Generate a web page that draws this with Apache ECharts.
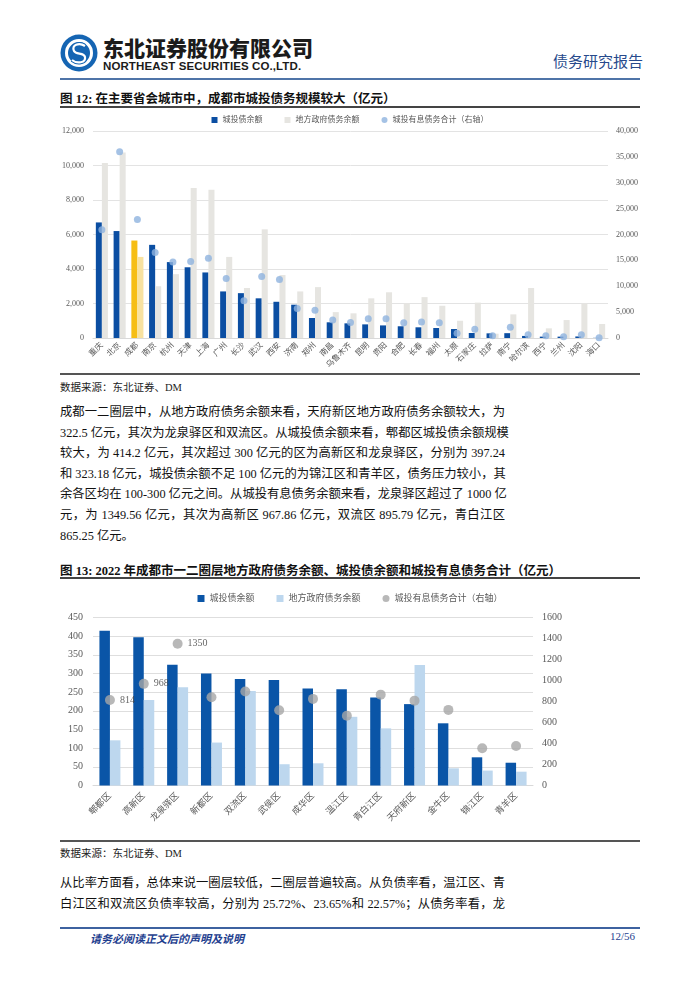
<!DOCTYPE html>
<html><head><meta charset="utf-8">
<script src="https://cdn.jsdelivr.net/npm/echarts@6/dist/echarts.min.js"></script>
<style>
body{margin:0;background:#fff;width:700px;height:990px;position:relative;overflow:hidden;font-family:"Liberation Serif","Noto Sans CJK SC",serif;color:#111;}
.abs{position:absolute;}
.title{font-weight:bold;font-size:12.5px;left:60px;white-space:nowrap;}
.rule{position:absolute;left:60px;width:580px;}
.src{font-size:10.5px;left:60px;color:#222;}
.para div{height:20.6px;line-height:20.6px;font-size:12.3px;width:445px;white-space:nowrap;}
.j{text-align:justify;text-align-last:justify;}
</style></head><body>
<svg class="abs" style="left:59px;top:33px" width="40" height="40" viewBox="0 0 40 40">
<circle cx="20" cy="20" r="18.5" fill="#1565b3"/>
<circle cx="20" cy="20" r="12.5" fill="none" stroke="#fff" stroke-width="3"/>
<path d="M26 13 C20 9 12 12 15 18 C17 22 25 19 26 24 C27 30 18 31 13 27" fill="none" stroke="#1565b3" stroke-width="4"/>
<path d="M26 13 C20 9 12 12 15 18 C17 22 25 19 26 24 C27 30 18 31 13 27" fill="none" stroke="#fff" stroke-width="2.2"/>
</svg>
<div class="abs" style="left:103px;top:32px;font-family:'Noto Sans CJK SC';font-weight:900;font-size:21px;letter-spacing:0px;color:#1b1b1b;">东北证券股份有限公司</div>
<div class="abs" style="left:103px;top:60px;font-family:'Liberation Sans';font-weight:bold;font-size:11.5px;color:#1b1b1b;letter-spacing:0.1px;">NORTHEAST SECURITIES CO.,LTD.</div>
<div class="abs" style="left:553px;top:50px;font-size:15px;color:#274a8c;font-family:'Noto Sans CJK SC';">债务研究报告</div>
<div class="rule" style="top:78px;height:2px;background:#4f74a8;"></div>

<div class="abs title" style="top:88px;">图 12: 在主要省会城市中，成都市城投债务规模较大（亿元）</div>
<div class="rule" style="top:106px;height:1.5px;background:#444;"></div>
<div id="c1" class="abs" style="left:0;top:108px;width:700px;height:265px;"></div>
<div class="rule" style="top:373px;height:1.5px;background:#555;"></div>
<div class="abs src" style="top:379px;">数据来源：东北证券、DM</div>

<div class="abs para" style="left:60px;top:402px;">
<div class="j">成都一二圈层中，从地方政府债务余额来看，天府新区地方政府债务余额较大，为</div>
<div class="j">322.5 亿元，其次为龙泉驿区和双流区。从城投债余额来看，郫都区城投债余额规模</div>
<div class="j">较大，为 414.2 亿元，其次超过 300 亿元的区为高新区和龙泉驿区，分别为 397.24</div>
<div class="j">和 323.18 亿元，城投债余额不足 100 亿元的为锦江区和青羊区，债务压力较小，其</div>
<div class="j">余各区均在 100-300 亿元之间。从城投有息债务余额来看，龙泉驿区超过了 1000 亿</div>
<div class="j">元，为 1349.56 亿元，其次为高新区 967.86 亿元，双流区 895.79 亿元，青白江区</div>
<div>865.25 亿元。</div>
</div>

<div class="abs title" style="top:560px;">图 13: 2022 年成都市一二圈层地方政府债务余额、城投债余额和城投有息债务合计（亿元）</div>
<div class="rule" style="top:577px;height:1.5px;background:#444;"></div>
<div id="c2" class="abs" style="left:0;top:582px;width:700px;height:258px;"></div>
<div class="rule" style="top:840px;height:1.5px;background:#555;"></div>
<div class="abs src" style="top:845px;">数据来源：东北证券、DM</div>

<div class="abs para" style="left:60px;top:873px;">
<div class="j">从比率方面看，总体来说一圈层较低，二圈层普遍较高。从负债率看，温江区、青</div>
<div class="j">白江区和双流区负债率较高，分别为 25.72%、23.65%和 22.57%；从债务率看，龙</div>
</div>

<div class="rule" style="top:927px;height:1.5px;background:#3d62a0;"></div>
<div class="abs" style="left:90px;top:930px;font-size:11px;font-weight:bold;font-style:italic;color:#1f3f8f;">请务必阅读正文后的声明及说明</div>
<div class="abs" style="left:610px;top:930px;font-size:11px;color:#1f3f8f;">12/56</div>

<script>
// ---------- Figure 12 data ----------
const cities = ['重庆','北京','成都','南京','杭州','天津','上海','广州','长沙','武汉','西安','济南','郑州','南昌','乌鲁木齐','昆明','贵阳','合肥','长春','福州','太原','石家庄','拉萨','南宁','哈尔滨','西宁','兰州','沈阳','海口'];
const cityBond = [6700,6200,5650,5400,4400,4100,3800,2700,2600,2300,2100,1930,1160,910,850,790,730,680,620,580,520,290,270,280,120,80,80,90,10];
const cityGovDebt = [10150,10750,4700,3000,3700,8700,8600,4700,2900,6300,3650,2700,2950,1500,1430,2300,2650,2000,2370,1870,1000,2050,250,1370,2900,560,1040,2000,810];
const cityInterestDebt = [20900,36000,22900,16500,14700,14800,15400,11500,7200,11900,11300,5700,5350,3500,3000,3700,3700,2950,3100,2950,900,1700,450,2070,650,450,260,650,50];
const leftTicks1 = {min:0,max:12000,interval:2000};
const rightTicks1 = {min:0,max:40000,interval:5000};

// ---------- Figure 13 data ----------
const districts = ['郫都区','高新区','龙泉驿区','新都区','双流区','武侯区','成华区','温江区','青白江区','天府新区','金牛区','锦江区','青羊区'];
const districtBond = [414.2,397.24,323.18,300,285,282.5,260,257.6,236,218,166.6,75.5,61];
const districtGovDebt = [121,229,263,115,253,57,59.5,184,153,322.5,46,40,37];
const districtInterestDebt = [814,967.86,1349.56,840,895.79,716,825,664,865.25,808,720,354,376];
const leftTicks2 = {min:0,max:450,interval:50};
const rightTicks2 = {min:0,max:1600,interval:200};

const names = ['城投债余额','地方政府债务余额','城投有息债务合计（右轴）'];
const fmt = v => v.toLocaleString('en-US');
const TXT = '#595959';
const SERIF = '"Liberation Serif","Noto Sans CJK SC",serif';

// ---------- Chart 1 ----------
const c1 = echarts.init(document.getElementById('c1'));
const hl = 2; // 成都 highlighted
c1.setOption({
  animation:false,
  legend:{top:3,left:'center',itemWidth:6,itemHeight:6,itemGap:22,
    textStyle:{fontSize:8,color:TXT,fontFamily:SERIF},
    data:[{name:names[0],icon:'rect'},{name:names[1],icon:'rect'},{name:names[2],icon:'circle'}]},
  grid:{left:93,right:92,top:23,bottom:35},
  xAxis:{type:'category',data:cities,
    axisLine:{lineStyle:{color:'#d9d9d9'}},axisTick:{show:false},
    axisLabel:{rotate:45,fontSize:8,color:TXT,margin:6,interval:0,fontFamily:SERIF}},
  yAxis:[
    {type:'value',...leftTicks1,axisLine:{show:false},axisTick:{show:false},
      splitLine:{lineStyle:{color:'#e3e3e3'}},
      axisLabel:{fontSize:8,color:TXT,margin:9,formatter:fmt,fontFamily:SERIF}},
    {type:'value',...rightTicks1,axisLine:{show:false},axisTick:{show:false},splitLine:{show:false},
      axisLabel:{fontSize:8,color:TXT,margin:8,formatter:fmt,fontFamily:SERIF}}
  ],
  series:[
    {name:names[0],type:'bar',barGap:'0%',barCategoryGap:'32%',itemStyle:{color:'#0B4EA2'},
      data:cityBond.map((v,i)=> i===hl?{value:v,itemStyle:{color:'#F6BE14'}}:v)},
    {name:names[1],type:'bar',itemStyle:{color:'#E6E5E1'},
      data:cityGovDebt.map((v,i)=> i===hl?{value:v,itemStyle:{color:'#F8E2A0'}}:v)},
    {name:names[2],type:'scatter',yAxisIndex:1,z:5,symbolSize:7,itemStyle:{color:'#8EB3DF'},data:cityInterestDebt}
  ]
});

// ---------- Chart 2 ----------
const c2 = echarts.init(document.getElementById('c2'));
const labelled = [0,1,2];
c2.setOption({
  animation:false,
  legend:{top:7,left:'center',itemWidth:7,itemHeight:7,itemGap:22,
    textStyle:{fontSize:9,color:TXT,fontFamily:SERIF},
    data:[{name:names[0],icon:'rect'},{name:names[1],icon:'rect'},{name:names[2],icon:'circle'}]},
  grid:{left:93,right:167,top:35.5,bottom:54.5},
  xAxis:{type:'category',data:districts,
    axisLine:{lineStyle:{color:'#d9d9d9'}},axisTick:{show:false},
    axisLabel:{rotate:45,fontSize:9,color:TXT,margin:9,interval:0,fontFamily:SERIF}},
  yAxis:[
    {type:'value',...leftTicks2,axisLine:{show:false},axisTick:{show:false},
      splitLine:{lineStyle:{color:'#dedede'}},
      axisLabel:{fontSize:10,color:TXT,margin:10,fontFamily:SERIF}},
    {type:'value',...rightTicks2,axisLine:{show:false},axisTick:{show:false},splitLine:{show:false},
      axisLabel:{fontSize:10,color:TXT,margin:9,fontFamily:SERIF,formatter:v=>String(v)}}
  ],
  series:[
    {name:names[0],type:'bar',barGap:'0%',barCategoryGap:'38%',itemStyle:{color:'#0A55A7'},data:districtBond},
    {name:names[1],type:'bar',itemStyle:{color:'#BDD7EE'},data:districtGovDebt},
    {name:names[2],type:'scatter',yAxisIndex:1,z:10,zlevel:1,symbolSize:10,itemStyle:{color:'#A6A6A6'},
      data:districtInterestDebt.map((v,i)=> labelled.includes(i)
        ? {value:v,label:{show:true,position:'right',distance:5,fontSize:10,color:'#404040',fontFamily:SERIF,formatter:p=>Math.round(p.value)}}
        : v)}
  ]
});
</script>
</body></html>
